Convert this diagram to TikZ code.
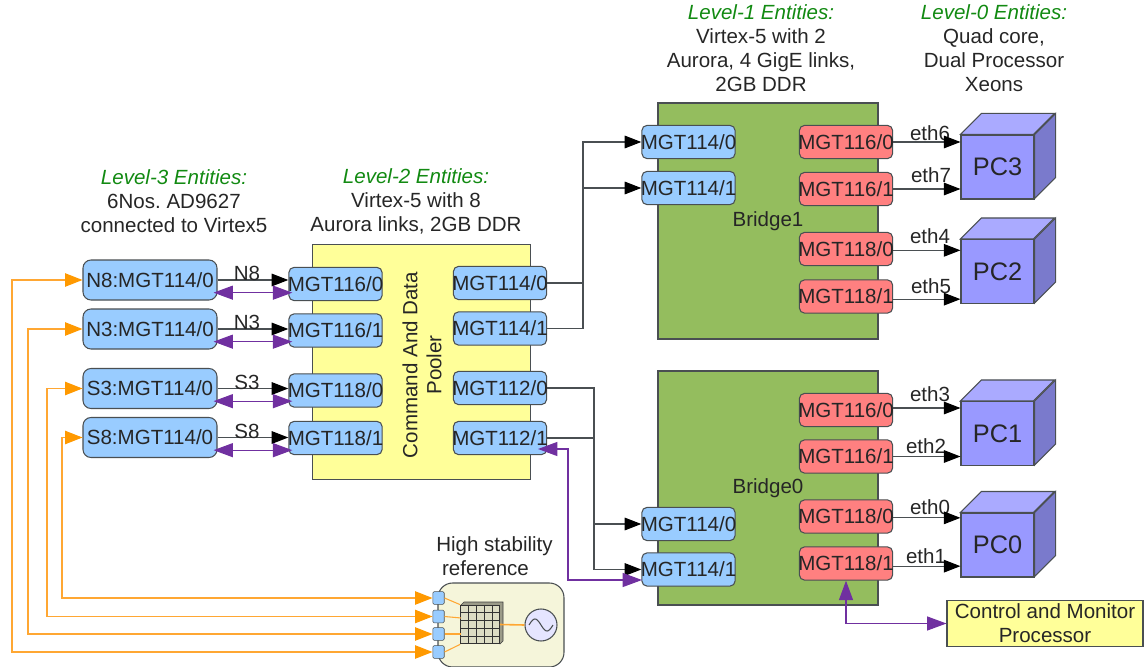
\documentclass[tikz,border=0pt]{standalone}
\usepackage{fontspec}
\setmainfont{Liberation Sans}
\frenchspacing
\usetikzlibrary{arrows.meta}
\definecolor{portblue}{HTML}{99CCFF}
\definecolor{portred}{HTML}{FF8080}
\definecolor{boardgreen}{HTML}{94BD5E}
\definecolor{boardyellow}{HTML}{FFFF99}
\definecolor{paleyellow}{HTML}{F5F5DA}
\definecolor{meshgrey}{HTML}{DDDDC4}
\definecolor{linkpurple}{HTML}{7030A0}
\definecolor{syncorange}{HTML}{FFA733}
\definecolor{tiporange}{HTML}{FF9900}
\definecolor{headgreen}{HTML}{128A12}
\definecolor{inkgrey}{HTML}{4A4F52}
\definecolor{cubefront}{HTML}{9999FF}
\definecolor{cubetop}{HTML}{AAAAFF}
\definecolor{cubeside}{HTML}{7A7ACC}
\newcommand{\mgtname}[1]{\makebox[0pt]{MGT#1}}
\begin{document}
\begin{tikzpicture}[x=0.75pt,y=-0.75pt,>={Triangle[length=12.5pt,width=9.5pt,color=black]},
  every node/.style={font=\fontsize{15.4}{18}\selectfont,text=black!85,inner sep=0pt},
  portbox/.style={draw=inkgrey,thick,rounded corners=4pt,minimum width=70pt,minimum height=25pt},
  blueport/.style={portbox,fill=portblue},
  redport/.style={portbox,fill=portred},
  sensorbox/.style={blueport,minimum width=100.5pt,minimum height=30pt,rounded corners=6pt},
  board/.style={draw=inkgrey,thick},
  wire/.style={draw=inkgrey,thick},
  link/.style={draw=linkpurple,thick,>={Triangle[length=14.5pt,width=10.5pt,color=linkpurple]}},
  sync/.style={draw=syncorange,thick},
  synctip/.style={>={Triangle[length=13pt,width=10pt,color=tiporange]}},
  heading/.style={align=center},
  cube/.style={draw=inkgrey,thick,fill=#1}]
\useasboundingbox (0,0) rectangle (1147,667);

% boards
\node[board,fill=boardyellow,minimum width=164pt,minimum height=176pt] (poller) at (421.5,362) {};
\node[rotate=90,align=center] (pollertext) at (422,365) {Command And Data\\Pooler};
\node[board,fill=boardgreen,minimum width=165pt,minimum height=177pt] (bridgeone) at (768,221) {Bridge1};
\node[board,fill=boardgreen,minimum width=165pt,minimum height=175.5pt] (bridgezero) at (768,488) {Bridge0};

% ports
\foreach \n/\y/\t in {n8/280/N8,n3/329/N3,s3/388.5/S3,s8/437.5/S8}
  \node[sensorbox] (\n) at (150,\y) {\makebox[0pt]{\t:MGT114/0}};
\foreach \n/\y/\t in {pa/284/{116/0},pb/330.5/{116/1},pc/390.5/{118/0},pd/438/{118/1}}
  \node[blueport] (\n) at (335.5,\y) {\mgtname{\t}};
\foreach \n/\y/\t in {qa/283/{114/0},qb/328.5/{114/1},qc/388/{112/0},qd/438/{112/1}}
  \node[blueport] (\n) at (500,\y) {\mgtname{\t}};
\foreach \n/\y/\t in {ua/142/{114/0},ub/188/{114/1},za/524/{114/0},zb/569.5/{114/1}}
  \node[blueport] (\n) at (688.5,\y) {\mgtname{\t}};
\foreach \n/\y/\t in {ra/142/{116/0},rb/189/{116/1},rc/249/{118/0},rd/296.5/{118/1},re/410/{116/0},rf/456.5/{116/1},rg/516.5/{118/0},rh/563.5/{118/1}}
  \node[redport] (\n) at (846,\y) {\mgtname{\t}};

% PCs
\foreach \n/\y in {3/167,2/271.5,1/433.5,0/545} {
  \node[cube=cubefront,minimum width=54.75pt,minimum height=48pt,font=\fontsize{19}{22}\selectfont] (pc\n) at (997.5,\y) {PC\n};
  \draw[cube=cubetop] (pc\n.north west) -- ++(21,-21) -- ++(73,0) -- ++(-21,21) -- cycle;
  \draw[cube=cubeside] (pc\n.north east) -- ++(21,-21) -- ++(0,64) -- ++(-21,21) -- cycle;
}

% text blocks
\node[heading] (levelthree) at (174,201) {\textcolor{headgreen}{\itshape Level-3 Entities:}\\6Nos. AD9627\\connected to Virtex5};
\node[heading] (leveltwo) at (416,201) {\textcolor{headgreen}{\itshape Level-2 Entities:}\\Virtex-5 with 8\\Aurora links, 2GB DDR};
\node[heading] (levelone) at (761,48.5) {\textcolor{headgreen}{\itshape Level-1 Entities:}\\Virtex-5 with 2\\Aurora, 4 GigE links,\\2GB DDR};
\node[heading] (levelzero) at (994,48.5) {\textcolor{headgreen}{\itshape Level-0 Entities:}\\Quad core,\\Dual Processor\\Xeons};
\node[heading] (reftext) at (494.5,556) {High stability\\reference\hspace*{13.5pt}};

% reference board
\node[draw=inkgrey,thick,fill=paleyellow,rounded corners=11pt,minimum width=94.5pt,minimum height=63pt] (refboard) at (501,625) {};
\draw[draw=black!75,fill=meshgrey!70!black] (461,605) -- ++(3,-3) -- ++(39,0) -- ++(0,39) -- ++(-3,3) -- cycle;
\node[draw=black!80,thick,fill=meshgrey,minimum width=29pt,minimum height=29pt] (mesh) at (480,624.5) {};
\foreach \k in {1,...,4} \draw[black!80,semithick] (460.7+\k*7.8,605) -- (460.7+\k*7.8,644);
\foreach \k in {1,...,4} \draw[black!80,semithick] (461,605+\k*7.8) -- (500,605+\k*7.8);
\node[draw=inkgrey,thick,fill=blue!10,circle,minimum size=24pt] (osc) at (541,625) {};
\draw[inkgrey,thick] plot[domain=-1:1,samples=30] ({541+\x*12},{625-6*sin((\x+1)*180)});
\foreach \n/\y in {ga/598,gb/616.5,gc/634,gd/652}
  \node[draw=inkgrey,fill=portblue,rounded corners=1pt,minimum width=8.6pt,minimum height=9.5pt] (\n) at (438.5,\y) {};
\draw[sync] (ga.east) -- (mesh.north west);
\draw[sync] (gb.east) -- (461,618);
\draw[sync] (gc.east) -- (461,634);
\draw[sync] (gd.east) -- (mesh.south west);
\draw[sync,very thick] (mesh.east) -- (osc.west);

% control
\node[board,fill=boardyellow,minimum width=147pt,minimum height=35pt,align=center] (ctrl) at (1045,623.5) {\makebox[0pt]{Control and Monitor}\\Processor};

% level 3 to level 2
\foreach \a/\b/\t in {n8/pa/N8,n3/pb/N3,s3/pc/S3,s8/pd/S8} {
  \draw[wire,->] (\a.east) -- node[above=-1pt,xshift=-4.5pt] (lbl\t) {\t} (\a.east -| \b.west);
  \draw[link,<->,shorten <=-3pt,shorten >=-3pt] ([yshift=-9.5pt]\a.east) -- ([yshift=-9.5pt]\a.east -| \b.west);
}

% level 2 to level 1
\coordinate (railone) at (583,240);
\coordinate (railzero) at (594,480);
\draw[wire,->] (qa.east) -| (railone) |- (ua.west);
\draw[wire,->] (qb.east) -| (railone) |- (ub.west);
\draw[wire,->] (qc.east) -| (railzero) |- (za.west);
\draw[wire,->] (qd.east) -| (railzero) |- (zb.west);

% level 1 to level 0
\foreach \a/\b/\t/\d/\lx/\ly in {ra/pc3/eth6/0/930/133,rb/pc3/eth7/0/931/175,rc/pc2/eth4/-1/930/236,rd/pc2/eth5/-2/931/286,re/pc1/eth3/1.5/930/394,rf/pc1/eth2/0/926/446,rg/pc0/eth0/-1/930/507,rh/pc0/eth1/-2/926/556} {
  \node (lbl\t) at (\lx,\ly) {\t};
  \draw[wire,->] ([yshift=\d pt]\a.east) -- ([yshift=\d pt]\a.east -| \b.west);
}

% reference distribution
\coordinate (clkqd) at (538,449);
\coordinate (clkzb) at (642,580);
\draw[link,<->] (clkqd) -| (568,500) |- (clkzb);
\draw[link,<->] (rh.south) |- (ctrl.west);
\foreach \a/\b/\x in {n8/gd/12,n3/gc/28,s3/gb/47,s8/ga/62}
  \draw[sync,synctip,<->] (\a.west) -| (\x,500) |- (\b.west);
\end{tikzpicture}
\end{document}
